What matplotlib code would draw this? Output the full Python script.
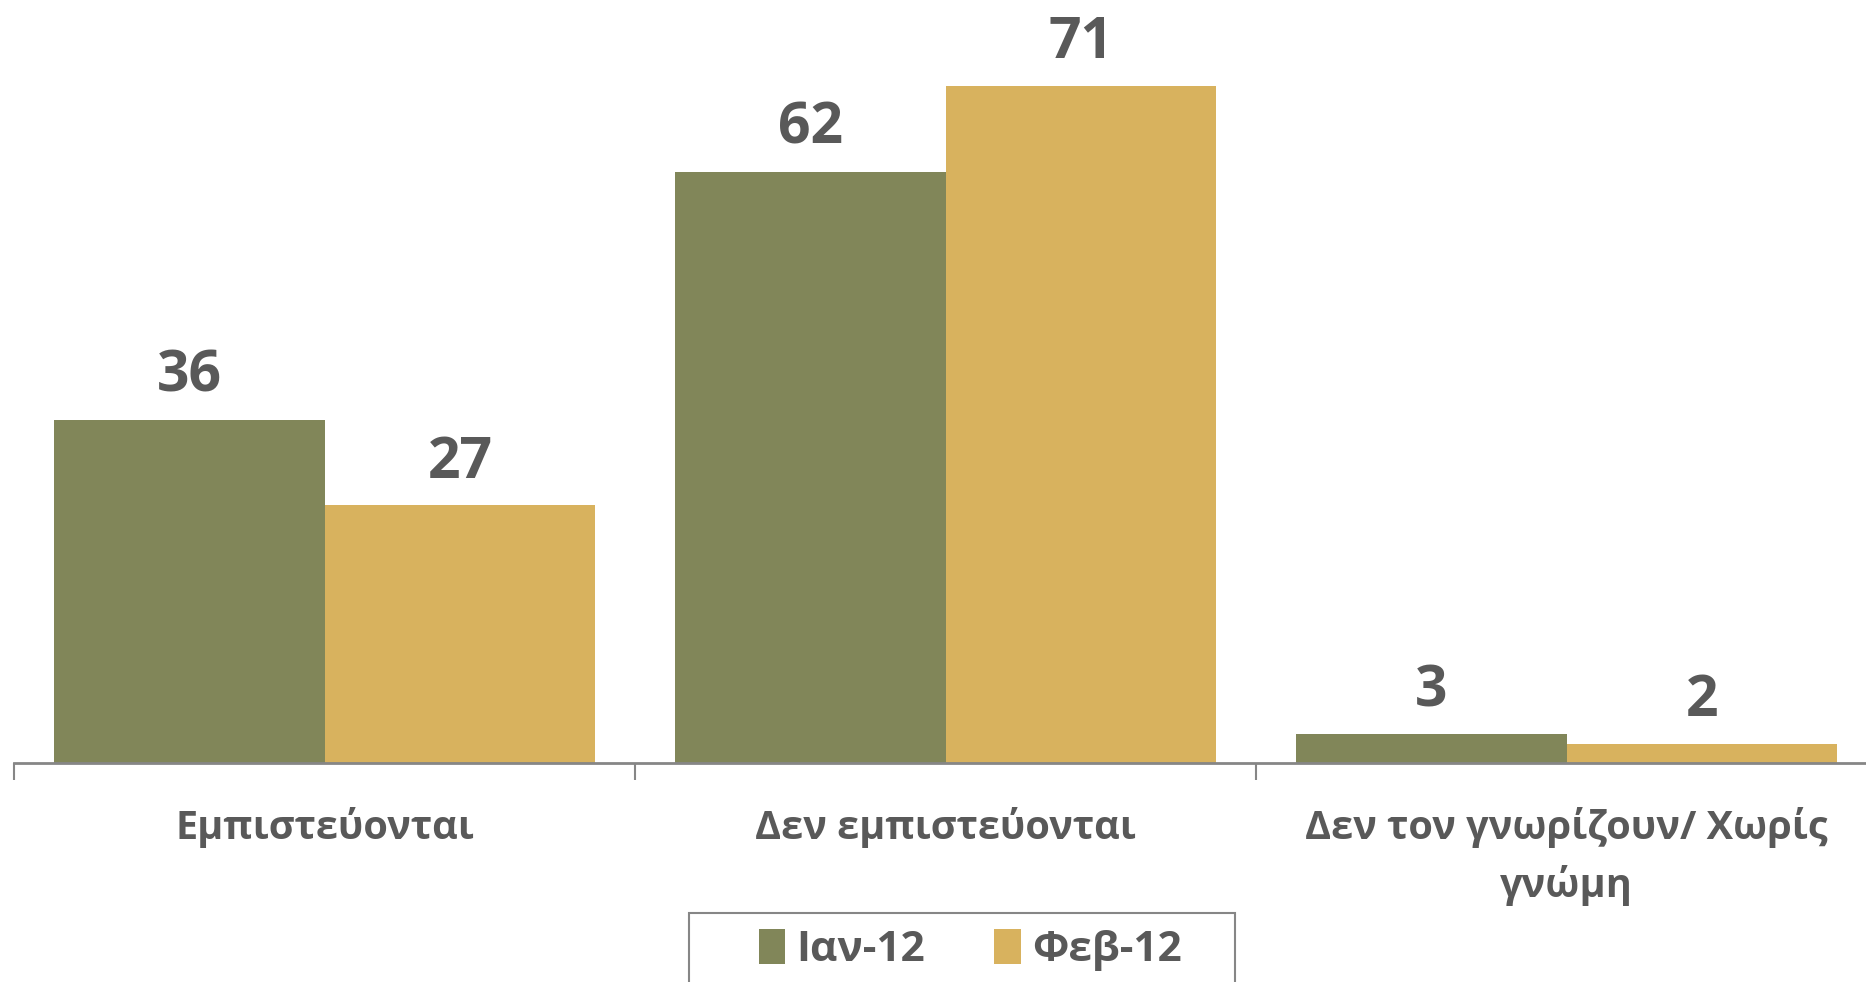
import numpy as np
import matplotlib.pyplot as plt
from matplotlib.patches import Rectangle

# trust in the person, Jan vs Feb 2012
categories = ["Εμπιστεύονται", "Δεν εμπιστεύονται", "Δεν τον γνωρίζουν/ Χωρίς\nγνώμη"]
series_names = ["Ιαν-12", "Φεβ-12"]
ian_12 = [36, 62, 3]
feb_12 = [27, 71, 2]

green = "#818659"
gold = "#D8B25E"
text_col = "#595959"
axis_col = "#868686"

plt.rcParams['font.family'] = ['Open Sans', 'DejaVu Sans']

fig = plt.figure(figsize=(18.66, 9.82), dpi=100)
ax = fig.add_axes([14 / 1866, 1 - 763 / 982, 1863 / 1866, 763 / 982])

x = np.arange(len(categories))
w = 0.436
b1 = ax.bar(x - w / 2, ian_12, w, color=green, label=series_names[0])
b2 = ax.bar(x + w / 2, feb_12, w, color=gold, label=series_names[1])

for bars in (b1, b2):
    for r in bars:
        ax.annotate(f"{r.get_height():.0f}", (r.get_x() + r.get_width() / 2, r.get_height()),
                    xytext=(0, 10), textcoords="offset points", ha="center", va="bottom",
                    fontsize=41, fontweight="bold", color=text_col)

ax.set_xlim(-0.5, 2.5)
ax.set_ylim(0, 80)

for s in ["top", "right", "left"]:
    ax.spines[s].set_visible(False)
ax.spines["bottom"].set_color(axis_col)
ax.spines["bottom"].set_linewidth(2)
ax.set_yticks([])

ax.set_xticks(x)
ax.set_xticklabels(categories, fontsize=28.5, fontweight="bold", color=text_col,
                   linespacing=1.52)
ax.tick_params(axis="x", which="major", length=0, pad=32)
ax.set_xticks([-0.5, 0.5, 1.5, 2.5], minor=True)
ax.tick_params(axis="x", which="minor", length=12, width=1.5, color=axis_col)

# legend box (runs off the bottom edge like the original)
fig.patches.append(Rectangle((689 / 1866, -0.05), 546 / 1866, 0.05 + 1 - 913 / 982,
                             transform=fig.transFigure, fill=False,
                             edgecolor=axis_col, linewidth=1.5))
leg = ax.legend(loc="center", bbox_to_anchor=(970 / 1866, 1 - 950 / 982),
                bbox_transform=fig.transFigure, ncol=2, frameon=False,
                prop={"size": 30.5, "weight": "bold"}, handlelength=0.63, handleheight=0.9,
                columnspacing=1.65, handletextpad=0.25, borderpad=0, borderaxespad=0)
for t in leg.get_texts():
    t.set_color(text_col)

fig.savefig("out.png", dpi=100)
